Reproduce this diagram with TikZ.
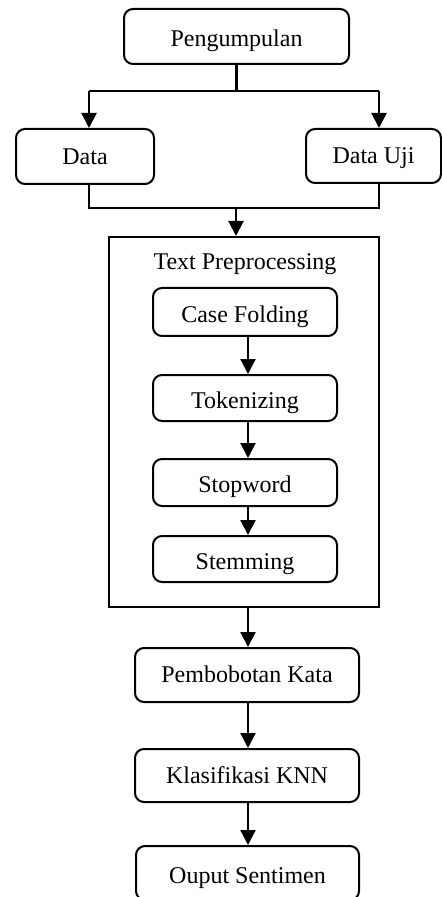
\documentclass[tikz,border=0pt]{standalone}
\usepackage{fontspec}
\setmainfont{Liberation Serif}
\usetikzlibrary{arrows.meta}
\tikzset{
  box/.style={draw, line width=1pt, rounded corners=4.5pt, font=\fontsize{12}{14}\selectfont, inner sep=0pt, text height=8pt, text depth=0.1pt, minimum width=#1},
  box/.default=92pt,
  low/.style={text height=10.4pt},
  frame/.style={draw, line width=1pt, inner sep=0pt},
  conn/.style={line width=1.1pt},
  arr/.style={line width=1.1pt, -{Triangle[width=7.5pt,length=7.5pt]}},
  lbl/.style={font=\fontsize{12}{14}\selectfont, inner sep=0pt}
}
\begin{document}
\begin{tikzpicture}[x=0.5pt,y=-0.5pt]
\useasboundingbox (0,0) rectangle (442,897);
\clip (0,0) rectangle (442,897);
% top
\node[box=112.5pt, low, minimum height=27.5pt] (peng) at (236.5,36.5) {Pengumpulan};
\node[box=69pt, minimum height=27.5pt] (data) at (85,156.5) {Data};
\node[box=67.5pt, minimum height=27pt] (uji) at (373.5,156) {Data Uji};
% text preprocessing frame
\node[frame, minimum width=135pt, minimum height=185pt] (tp) at (244,422) {};
\node[lbl] (tptitle) at (245,264) {Text Preprocessing};
\node[box=92pt, low, minimum height=24pt] (cf) at (245,312) {Case Folding};
\node[box=92pt, low, minimum height=23pt] (tok) at (245,398) {Tokenizing};
\node[box=92pt, low, minimum height=23.5pt] (stop) at (245,482.5) {Stopword};
\node[box=92pt, low, minimum height=23pt] (stem) at (245,559) {Stemming};
% lower chain
\node[box=112pt, minimum height=27pt] (pk) at (247,675) {Pembobotan Kata};
\node[box=112pt, minimum height=26.5pt] (knn) at (247,775.5) {Klasifikasi KNN};
\node[box=111.5pt, low, minimum height=27pt] (out) at (247.5,873) {Ouput Sentimen};
% junction coordinates
\coordinate (jl) at (89,91);
\coordinate (jr) at (379,91);
\coordinate (kl) at (89,208);
\coordinate (kr) at (379,208);
\coordinate (km) at (236,208);
\coordinate (ax) at (248,0);
% connectors top
\draw[conn] (peng.south) -- (peng.south |- jl);
\draw[conn] (jl) -- (jr);
\draw[arr] (jl) -- (jl |- data.north);
\draw[arr] (jr) -- (jr |- uji.north);
\draw[conn] (kl |- data.south) -- (kl) -- (kr) -- (kr |- uji.south);
\draw[arr] (km) -- (km |- tp.north);
% inner
\draw[arr] (ax |- cf.south) -- (ax |- tok.north);
\draw[arr] (ax |- tok.south) -- (ax |- stop.north);
\draw[arr] (ax |- stop.south) -- (ax |- stem.north);
% lower
\draw[arr] (ax |- tp.south) -- (ax |- pk.north);
\draw[arr] (ax |- pk.south) -- (ax |- knn.north);
\draw[arr] (ax |- knn.south) -- (ax |- out.north);
\end{tikzpicture}
\end{document}
